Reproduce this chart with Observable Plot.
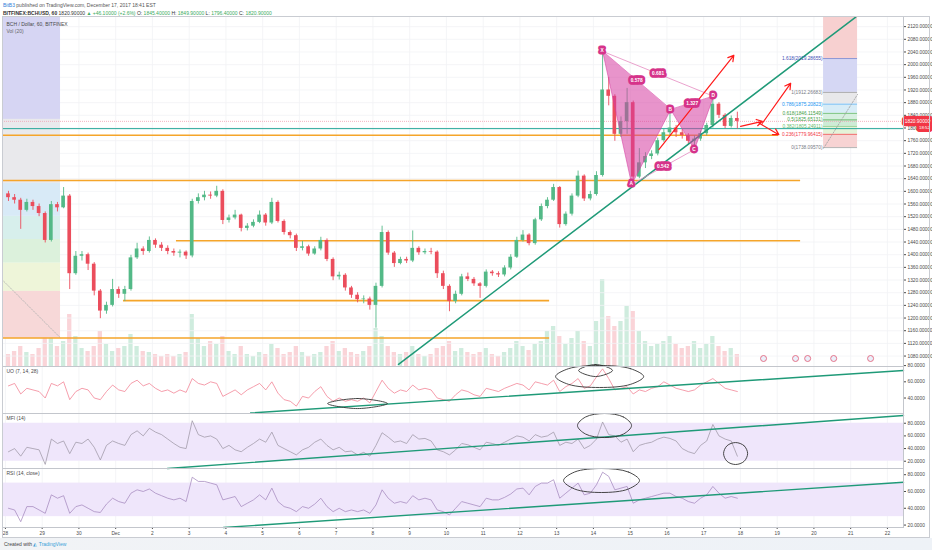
<!DOCTYPE html>
<html><head><meta charset="utf-8">
<script src="https://cdn.jsdelivr.net/npm/d3@7"></script>
<script src="https://cdn.jsdelivr.net/npm/@observablehq/plot@0.6"></script>
<style>
html,body{margin:0;padding:0;background:#fff;}
#root{position:relative;width:932px;height:550px;overflow:hidden;font-family:"Liberation Sans",Arial,sans-serif;background:#fff;}
.layer{position:absolute;left:0;}
.layer svg{display:block;}
#h1{position:absolute;left:3px;top:2px;font-size:5px;color:#555;white-space:nowrap;}
#h1 b{color:#2f7ed8;font-weight:normal;}
#h2{position:absolute;left:3px;top:9.5px;font-size:5px;color:#333;white-space:nowrap;}
#h2 .g{color:#3cab60;}
#frame{position:absolute;left:2px;top:16px;width:928px;height:522px;border:1px solid #c9ccd2;box-sizing:border-box;}
#foot{position:absolute;left:0;top:538px;width:932px;height:12px;background:linear-gradient(90deg,#f1f3f6,#eef2f7);}
#foot span{position:absolute;left:4px;top:3px;font-size:5px;color:#444;white-space:nowrap;}
#foot i{font-style:normal;color:#3a9fd8;}
</style></head>
<body>
<div id="root">
  <div id="h1"><b>BitB3</b> published on TradingView.com, December 17, 2017 18:41 EST</div>
  <div id="h2"><b>BITFINEX:BCHUSD, 60</b> 1820.90000 <span class="g">▲ +46.10000 (+2.6%)</span> O: <span class="g">1845.40000</span> H: <span class="g">1849.90000</span> L: <span class="g">1796.40000</span> C: <span class="g">1820.90000</span></div>
  <div id="vol" class="layer" style="top:16px"></div>
  <div id="main" class="layer" style="top:16px"></div>
  <div id="uo" class="layer" style="top:366px"></div>
  <div id="mfi" class="layer" style="top:413px"></div>
  <div id="rsi" class="layer" style="top:468px"></div>
  <div id="frame"></div>
  <div id="foot"><span>Created with <i>◭ TradingView</i></span></div>
</div>
<script>
// ---------- DATA ----------
const dayTicks = [0,24,48,72,96,120,144,168,192,216,240,264,288,312,336,360,384,408,432,456,480,504,528,552,576];
const dayLabels = ["28","29","30","Dec","2","3","4","5","6","7","8","9","10","11","12","13","14","15","16","17","18","19","20","21","22"];
const priceTicks = [1080,1120,1160,1200,1240,1280,1320,1360,1400,1440,1480,1520,1560,1600,1640,1680,1720,1760,1800,1840,1880,1920,1960,2000,2040,2080,2120];
const indTicks = [20,40,60,80];
const uoTicks = [40,60,80];

// 4-hour candles starting 2017-11-28 00:00 UTC (hours since then)
const barHours = 4;
const firstOpen = 1592;
const close = [1580,1572,1540,1565,1552,1530,1445,1558,1548,1585,
  1340,1395,1400,1370,1285,1222,1240,1290,1275,1290,
  1390,1418,1410,1445,1430,1420,1410,1405,1408,1396,
  1568,1580,1588,1585,1600,1508,1516,1525,1483,1490,
  1502,1525,1500,1565,1505,1470,1460,1420,1425,1402,
  1418,1445,1385,1330,1335,1295,1272,1258,1260,1240,
  1300,1470,1405,1372,1385,1380,1420,1406,1410,1408,
  1340,1300,1252,1275,1330,1322,1308,1300,1345,1340,
  1336,1358,1392,1445,1462,1435,1510,1552,1572,1612,
  1495,1528,1585,1648,1576,1590,1650,1920,1900,1780,
  1820,1880,1645,1690,1710,1718,1760,1785,1800,1785,
  1776,1758,1765,1782,1808,1875,1840,1805,1830,1820.9];
const high = [1600,1590,1578,1575,1572,1560,1535,1568,1565,1612,
  1590,1410,1410,1405,1375,1290,1250,1322,1298,1300,
  1398,1436,1425,1456,1450,1438,1428,1418,1415,1412,
  1575,1592,1600,1598,1616,1605,1525,1540,1528,1498,
  1510,1538,1530,1578,1570,1510,1475,1465,1442,1430,
  1425,1455,1450,1390,1345,1340,1300,1280,1270,1266,
  1310,1490,1475,1410,1392,1392,1475,1425,1418,1420,
  1412,1348,1305,1285,1338,1342,1328,1312,1352,1350,
  1346,1365,1400,1455,1476,1466,1515,1560,1580,1622,
  1615,1535,1592,1664,1652,1600,1662,2042,1960,1905,
  1835,1925,1885,1735,1722,1728,1768,1795,1858,1808,
  1795,1782,1775,1790,1815,1900,1880,1845,1838,1849.9];
const low = [1568,1560,1480,1535,1540,1520,1437,1440,1535,1545,
  1290,1335,1380,1350,1270,1198,1212,1235,1262,1252,
  1285,1385,1398,1405,1420,1410,1400,1395,1390,1385,
  1390,1560,1570,1575,1580,1495,1500,1510,1472,1475,
  1485,1498,1490,1495,1500,1462,1450,1410,1412,1395,
  1398,1412,1378,1318,1320,1285,1262,1248,1245,1225,
  1168,1295,1398,1360,1368,1372,1375,1398,1400,1400,
  1325,1290,1220,1245,1270,1315,1300,1262,1295,1332,
  1328,1330,1352,1388,1440,1428,1430,1505,1545,1568,
  1484,1490,1522,1580,1568,1570,1585,1645,1870,1758,
  1770,1780,1622,1640,1672,1700,1712,1755,1775,1770,
  1765,1748,1732,1758,1775,1800,1830,1798,1800,1796.4];
const volume = [12,15,20,14,12,18,30,62,20,25,
  52,30,18,15,20,35,22,15,18,20,
  32,20,15,14,12,10,12,10,12,14,
  52,28,20,25,22,30,15,12,20,12,
  10,14,12,22,18,12,14,20,14,10,
  12,14,20,25,15,18,14,12,15,20,
  38,30,20,14,12,14,20,12,10,12,
  18,20,25,15,18,14,12,14,18,12,
  10,14,18,25,20,16,22,25,35,40,
  30,22,28,35,25,20,45,87,50,40,
  45,60,55,35,25,20,22,25,30,22,
  18,20,25,18,22,30,20,15,18,12];
const uo = [55,58,45,52,50,48,40,58,55,60,
  38,48,52,50,40,38,48,56,50,48,
  58,62,55,58,52,48,50,46,50,47,
  64,58,56,60,58,42,46,50,44,50,
  54,58,50,60,46,38,36,30,42,40,
  48,54,42,36,40,36,38,36,40,34,
  48,62,52,46,50,48,56,50,52,50,
  40,38,36,44,50,48,44,42,52,50,
  48,52,55,58,56,50,60,58,56,62,
  48,54,58,64,52,55,66,76,64,50,
  52,54,45,50,48,52,54,60,56,52,
  50,48,50,56,60,64,58,52,50,48];
const mfi = [35,40,28,42,40,38,15,55,48,52,
  32,50,48,55,42,22,45,52,48,45,
  62,68,60,72,66,62,55,48,42,40,
  84,62,58,60,55,40,45,38,35,42,
  48,55,50,66,45,40,35,30,38,42,
  50,55,45,38,42,35,36,30,34,28,
  45,65,58,50,52,48,62,55,56,52,
  38,35,30,38,48,46,42,38,50,48,
  45,50,55,60,58,52,62,58,60,66,
  45,50,48,55,40,45,55,82,62,60,
  50,55,35,45,48,50,55,58,56,52,
  40,35,32,45,52,78,60,55,52,28];
const rsi = [40,38,24,42,42,38,34,56,52,55,
  34,42,44,40,36,35,45,52,48,46,
  58,62,60,63,58,55,52,50,52,48,
  77,72,72,70,68,50,52,54,42,46,
  50,56,50,64,48,42,40,36,42,40,
  45,52,42,36,40,36,38,36,38,34,
  44,62,52,46,48,46,55,50,52,50,
  38,36,32,40,48,46,44,42,52,50,
  50,53,57,63,64,56,66,70,70,74,
  52,58,64,70,56,58,68,83,78,62,
  64,66,46,50,52,54,56,58,58,54,
  52,48,46,52,56,66,58,52,54,52];

// horizontal support / resistance lines (price, from hour, to hour)
const srPrices = [1634, 1777, 1444, 1255, 1137];
const srFrom   = [-1.9, -1.9, 111.7, 77.1, -1.9];
const srTo     = [519.3, 504.9, 519.3, 355.4, 355.4];
const tealLevel = 1798;

// main rising trend line (hour, price)
const trendHours = [256.7, 555.3];
const trendPrices = [1054, 2150];
// indicator trend lines
const uoTrendH = [160.1, 586.5], uoTrendV = [21.5, 74.0];
const mfiTrendH = [105.8, 586.5], mfiTrendV = [8.5, 92.2];
const rsiTrendH = [142.4, 586.5], rsiTrendV = [17.1, 71.1];

// Fibonacci box (right)
const fibRatios = [2.618, 1.618, 1, 0.786, 0.618, 0.5, 0.382, 0.236, 0];
const fibPrices = [2194.08, 2019.28655, 1912.26683, 1875.20823, 1846.11549, 1825.65131, 1805.24911, 1779.96415, 1738.09570];
const fibHours = [534.3, 556.5];
const fibDiagP = [1736, 1906];
// Fibonacci box (left, older drawing)
const leftFibPrices = [2200, 1827, 1625, 1521, 1448, 1373, 1284, 1136];
const leftFibHours = [-1.9, 36.0];
const leftDiagH = [-1.1, 36.0], leftDiagP = [1316, 1137];

// harmonic pattern
const patNames = ["X","A","B","C","D"];
const patHours = [390, 409, 434.5, 450, 462.5];
const patPrices = [2042, 1622, 1858, 1732, 1900];
const ratioText = ["0.578","0.681","1.327","0.542"];
const ratioPairs = [["X","B"],["X","D"],["B","D"],["A","C"]];

// projection arrows [h1,p1,h2,p2]
const arrowsData = [[426.7,1731.7,475.7,2029.4],[480.1,1805.2,494.3,1821],[494.3,1815,512.8,1941],[492.1,1815.6,505.1,1779]];

// economic event markers (hours)
const eventHours = [495.1, 516.0, 523.9, 540.9, 565.0];

// hand-drawn annotation loops (hour, value)
const uoLoopBig = {h:[416.8,408.3,388.0,367.7,359.3,367.7,388.0,408.3], v:[66.5,76.2,80.1,76.2,66.5,56.9,53.0,56.9]};
const uoLoopSmall = {h:[396.5,385.4,374.3,385.4], v:[74,81.4,74,66.5]};
const uoLoopLeft = {h:[249.5,229.9,210.4,229.9], v:[33.2,39.4,33.2,27.0]};
const mfiLoopBig = {h:[408.9,403.7,391.3,378.8,373.6,378.8,391.3,403.7], v:[76.4,89.8,95.4,89.8,76.4,63.0,57.4,63.0]};
const mfiLoopSmall = {h:[484.7,482.4,476.8,471.3,469.0,471.3,476.8,482.4], v:[32.2,44.5,49.5,44.5,32.2,19.8,14.8,19.8]};
const rsiLoop = {h:[414.1,406.9,389.3,371.7,364.5,371.7,389.3,406.9], v:[73.1,83.2,87.4,83.2,73.1,63.0,58.8,63.0]};

// ---------- STYLE ----------
const UP = "#53b987", DOWN = "#eb4d5c";
const FONT = "Liberation Sans, Arial, sans-serif";
const xDomain = [-1.9, 586.5];
const baseStyle = {background: "transparent", overflow: "visible", fontFamily: FONT, fontSize: "4.8px", color: "#4a4a4a"};
const fibBand = ["#f7d0d0","#d5d7f4","#e8e8ea","#d7ecf7","#d6efe0","#cdebd6","#e4f3d8","#f7d3d3"];
const fibLine = ["#f08080","#7986cb","#9e9e9e","#64b5f6","#66bb6a","#4caf50","#81c784","#ef5350","#9e9e9e"];
const fibText = ["#f23645","#3f51b5","#787b86","#2196f3","#43a047","#43a047","#66bb6a","#f23645","#787b86"];
const leftBand = ["#d6d5f3","#e9e9ec","#d8eaf7","#d7efec","#dcf1dc","#eef5d9","#f7d8d8"];
const PINK = "#d63ca0";

// ---------- DERIVED TABLES ----------
const candles = close.map((c, i) => ({t: i * barHours, o: i ? close[i-1] : firstOpen, c, h: high[i], l: low[i], v: volume[i]}));
const ups = candles.filter(d => d.c >= d.o), downs = candles.filter(d => d.c < d.o);
const ind = (arr) => arr.map((v, i) => ({t: i * barHours + 2, v}));
const P = Object.fromEntries(patNames.map((n, i) => [n, {n, t: patHours[i], p: patPrices[i]}]));
const tri = [
  ...["X","A","B"].map(n => ({...P[n], id: 1})),
  ...["B","C","D"].map(n => ({...P[n], id: 2}))
];
const thinLegs = [
  ...["X","D"].map(n => ({...P[n], id: 1})),
  ...["A","C"].map(n => ({...P[n], id: 2}))
];
const ratioLabels = ratioPairs.map(([a, b], i) => ({t: (P[a].t + P[b].t) / 2, p: (P[a].p + P[b].p) / 2, text: ratioText[i]}));
const patLabels = patNames.map((n, i) => ({...P[n], dy: (n === "A" || n === "C") ? 6 : -6}));
const bands = fibBand.map((c, i) => ({y1: fibPrices[i], y2: fibPrices[i+1], i}));
const fibLevels = fibRatios.map((r, i) => ({r, p: fibPrices[i], i})).slice(1);
const leftBands = leftBand.map((c, i) => ({y1: leftFibPrices[i], y2: leftFibPrices[i+1], i}));
const sr = srPrices.map((p, i) => ({p, x1: srFrom[i], x2: srTo[i]}));
const seg = (h, v) => h.map((t, i) => ({t, v: v[i]}));
const loop = (o, id) => o.h.map((t, i) => ({t, v: o.v[i], id}));
const lastClose = close[close.length - 1];

// ---------- VOLUME ----------
document.getElementById("vol").append(Plot.plot({
  width: 932, height: 350, marginLeft: 2, marginRight: 29, marginTop: 0, marginBottom: 0,
  style: baseStyle,
  x: {domain: xDomain, axis: null},
  y: {domain: [0, 350], axis: null},
  marks: [
    Plot.rect(ups, {x1: d => d.t + 0.6, x2: d => d.t + 3.4, y1: 0, y2: "v", fill: UP, fillOpacity: 0.28}),
    Plot.rect(downs, {x1: d => d.t + 0.6, x2: d => d.t + 3.4, y1: 0, y2: "v", fill: DOWN, fillOpacity: 0.24})
  ]
}));

// ---------- MAIN PRICE PANE ----------
document.getElementById("main").append(Plot.plot({
  width: 932, height: 350, marginLeft: 2, marginRight: 29, marginTop: 0, marginBottom: 0,
  style: baseStyle,
  x: {domain: xDomain, axis: null},
  y: {domain: [1047, 2152], axis: "right", ticks: priceTicks, tickFormat: d => d.toFixed(5), tickSize: 2, tickPadding: 2, label: null},
  marks: [
    Plot.ruleX(dayTicks, {stroke: "#f1f2f5", strokeWidth: 0.8}),
    Plot.ruleY(priceTicks, {stroke: "#f1f2f5", strokeWidth: 0.8}),
    // left fib box
    Plot.rect(leftBands, {x1: leftFibHours[0], x2: leftFibHours[1], y1: "y1", y2: "y2", fill: d => leftBand[d.i], clip: true}),
    Plot.line(seg(leftDiagH, leftDiagP), {x: "t", y: "v", stroke: "#b0b0b0", strokeWidth: 0.8, strokeDasharray: "1.5,1.5"}),
    // right fib box
    Plot.rect(bands, {x1: fibHours[0], x2: fibHours[1], y1: "y1", y2: "y2", fill: d => fibBand[d.i], clip: true}),
    ...fibLevels.map(d => Plot.ruleY([d.p], {x1: fibHours[0], x2: fibHours[1], stroke: fibLine[d.i], strokeWidth: 0.8})),
    Plot.line(seg(fibHours, fibDiagP), {x: "t", y: "v", stroke: "#a0a0a0", strokeWidth: 0.8, strokeDasharray: "1.5,1.5"}),
    // horizontal lines
    Plot.ruleY(sr, {y: "p", x1: "x1", x2: "x2", stroke: "#f5a52a", strokeWidth: 1.6}),
    Plot.ruleY([lastClose], {stroke: "#f2a0b2", strokeWidth: 0.8, strokeDasharray: "1,1"}),
    Plot.ruleY([tealLevel], {stroke: "#26a69a", strokeWidth: 1}),
    // candles
    Plot.ruleX(ups, {x: d => d.t + 2, y1: "l", y2: "h", stroke: UP, strokeWidth: 0.9}),
    Plot.ruleX(downs, {x: d => d.t + 2, y1: "l", y2: "h", stroke: DOWN, strokeWidth: 0.9}),
    Plot.rect(ups, {x1: d => d.t + 0.8, x2: d => d.t + 3.2, y1: "o", y2: "c", fill: UP}),
    Plot.rect(downs, {x1: d => d.t + 0.8, x2: d => d.t + 3.2, y1: "o", y2: "c", fill: DOWN}),
    // trend line
    Plot.line(seg(trendHours, trendPrices), {x: "t", y: "v", stroke: "#1f9a78", strokeWidth: 1.5, clip: true}),
    // harmonic pattern
    Plot.line(tri, {x: "t", y: "p", z: "id", curve: "linear-closed", fill: PINK, fillOpacity: 0.55, stroke: PINK, strokeOpacity: 0.7, strokeWidth: 0.8}),
    Plot.line(thinLegs, {x: "t", y: "p", z: "id", stroke: "#e58ac0", strokeWidth: 0.8}),
    // arrows
    Plot.arrow(arrowsData, {x1: d => d[0], y1: d => d[1], x2: d => d[2], y2: d => d[3], stroke: "#ff1a1a", strokeWidth: 1.2, headLength: 8}),
    // fib labels
    Plot.text(fibLevels, {x: fibHours[0], y: "p", text: d => `${d.r}(${d.p.toFixed(5)})`, textAnchor: "end", dx: -1, fill: d => fibText[d.i], fontSize: 4.8}),
    // pattern labels
    Plot.text(patLabels, {x: "t", y: "p", text: "n", dy: "dy", fill: "white", stroke: "#d6338a", strokeWidth: 5, fontSize: 4.8, fontWeight: "bold"}),
    Plot.text(ratioLabels, {x: "t", y: "p", text: "text", fill: "white", stroke: "#d6338a", strokeWidth: 5.5, fontSize: 4.8, fontWeight: "bold"}),
    // events
    Plot.dot(eventHours, {x: d => d, frameAnchor: "bottom", dy: -8, r: 3, fill: "#eaf0fb", stroke: "#e2667e", strokeWidth: 0.9}),
    // legend
    Plot.text(["BCH / Dollar, 60, BITFINEX"], {text: d => d, frameAnchor: "top-left", dx: 4, dy: 6, fill: "#4a4a4a", fontSize: 5}),
    Plot.text(["Vol (20)"], {text: d => d, frameAnchor: "top-left", dx: 4, dy: 13, fill: "#6a6a6a", fontSize: 5}),
    // last price tag + countdown
    Plot.text([lastClose], {y: d => d, text: d => d.toFixed(5), frameAnchor: "right", textAnchor: "middle", dx: 14, fill: "white", stroke: "#f23645", strokeWidth: 6.5, fontSize: 4.8}),
    Plot.text(["18:52"], {y: () => lastClose, text: d => d, frameAnchor: "right", textAnchor: "middle", dx: 21, dy: 6.5, fill: "white", stroke: "#f23645", strokeWidth: 6, fontSize: 4.4}),
    Plot.frame({stroke: "#c3c6cc"})
  ]
}));

// ---------- INDICATOR PANES ----------
function pane(el, height, domain, ticks, data, color, label, trendH, trendV, loops, band, bottomAxis) {
  const marks = [
    Plot.ruleX(dayTicks, {stroke: "#f1f2f5", strokeWidth: 0.8})
  ];
  if (band) marks.push(Plot.rect([band], {x1: xDomain[0], x2: xDomain[1], y1: d => d[0], y2: d => d[1], fill: "#efe6fb"}));
  marks.push(
    Plot.line(ind(data), {x: "t", y: "v", stroke: color, strokeWidth: 0.75}),
    Plot.line(seg(trendH, trendV), {x: "t", y: "v", stroke: "#1f9a78", strokeWidth: 1.4}),
    ...loops.map((o, k) => Plot.line(loop(o, k), {x: "t", y: "v", curve: "catmull-rom-closed", stroke: "#333", strokeWidth: 0.9})),
    Plot.text([label], {text: d => d, frameAnchor: "top-left", dx: 4, dy: 3, fill: "#4a4a4a", fontSize: 5}),
    Plot.frame({stroke: "#c3c6cc"})
  );
  document.getElementById(el).append(Plot.plot({
    width: 932, height, marginLeft: 2, marginRight: 29, marginTop: 0, marginBottom: bottomAxis ? 12 : 0,
    style: baseStyle,
    x: bottomAxis
      ? {domain: xDomain, ticks: dayTicks, tickFormat: d => dayLabels[dayTicks.indexOf(d)], tickSize: 2, tickPadding: 2, label: null}
      : {domain: xDomain, axis: null},
    y: {domain, axis: "right", ticks, tickFormat: d => d.toFixed(4), tickSize: 2, tickPadding: 2, label: null},
    marks
  }));
}
pane("uo", 47, [20.9, 78.9], uoTicks, uo, "#f27d90", "UO (7, 14, 28)", uoTrendH, uoTrendV, [uoLoopBig, uoLoopSmall, uoLoopLeft], null, false);
pane("mfi", 55, [8.5, 95.4], indTicks, mfi, "#9d97a6", "MFI (14)", mfiTrendH, mfiTrendV, [mfiLoopBig, mfiLoopSmall], [20, 80], false);
pane("rsi", 71, [17.1, 87.4], indTicks, rsi, "#a488bd", "RSI (14, close)", rsiTrendH, rsiTrendV, [rsiLoop], [30, 70], true);
</script>
</body></html>
